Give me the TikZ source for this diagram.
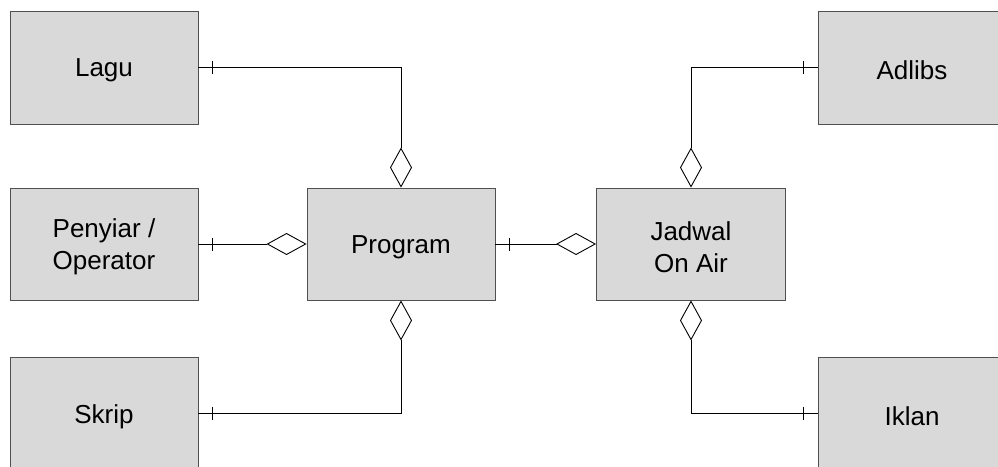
\documentclass[tikz,border=0pt]{standalone}
\usepackage{fontspec}
\setmainfont{Liberation Sans}
\usetikzlibrary{arrows.meta,decorations.markings}
\definecolor{boxfill}{HTML}{D9D9D9}
\definecolor{boxline}{HTML}{505050}
\newcommand\lowtxt[1]{\raisebox{-3pt}[\height][\depth]{#1}}
\begin{document}
\begin{tikzpicture}[x=1pt,y=-1pt,
  entity/.style={draw=boxline,fill=boxfill,line width=0.9pt,minimum width=188pt,minimum height=113pt,
    inner sep=0pt,align=center,font=\fontsize{26}{32}\selectfont},
  rel/.style={draw=black,line width=0.9pt,-{Diamond[open,length=40pt,width=22pt,line width=0.9pt]},
    postaction={decorate,decoration={markings,mark=at position 14pt with {\draw[-,line width=0.9pt] (0,-6.5pt) -- (0,6.5pt);}}}}]
\clip (0,0) rectangle (998,466);
\node[entity] (lagu) at (104,67.5) {\lowtxt{Lagu}};
\node[entity,minimum height=112pt] (peny) at (104,244) {\lowtxt{Penyiar /}\\\lowtxt{Operator}};
\node[entity] (skrip) at (104,413.5) {\lowtxt{Skrip}};
\node[entity,minimum height=112pt] (prog) at (401,244) {\lowtxt{Program}};
\node[entity,minimum height=112pt,minimum width=189pt] (jad) at (691,244) {\lowtxt{Jadwal}\\\lowtxt{On Air}};
\node[entity] (adlibs) at (912,67.5) {\lowtxt{Adlibs}};
\node[entity] (iklan) at (912,413.5) {\lowtxt{Iklan}};
\draw[rel] (lagu.east) -| (prog.north);
\draw[rel] (peny.east) -- (prog.west);
\draw[rel] (skrip.east) -| (prog.south);
\draw[rel] (prog.east) -- (jad.west);
\draw[rel] (adlibs.west) -| (jad.north);
\draw[rel] (iklan.west) -| (jad.south);
\end{tikzpicture}
\end{document}
